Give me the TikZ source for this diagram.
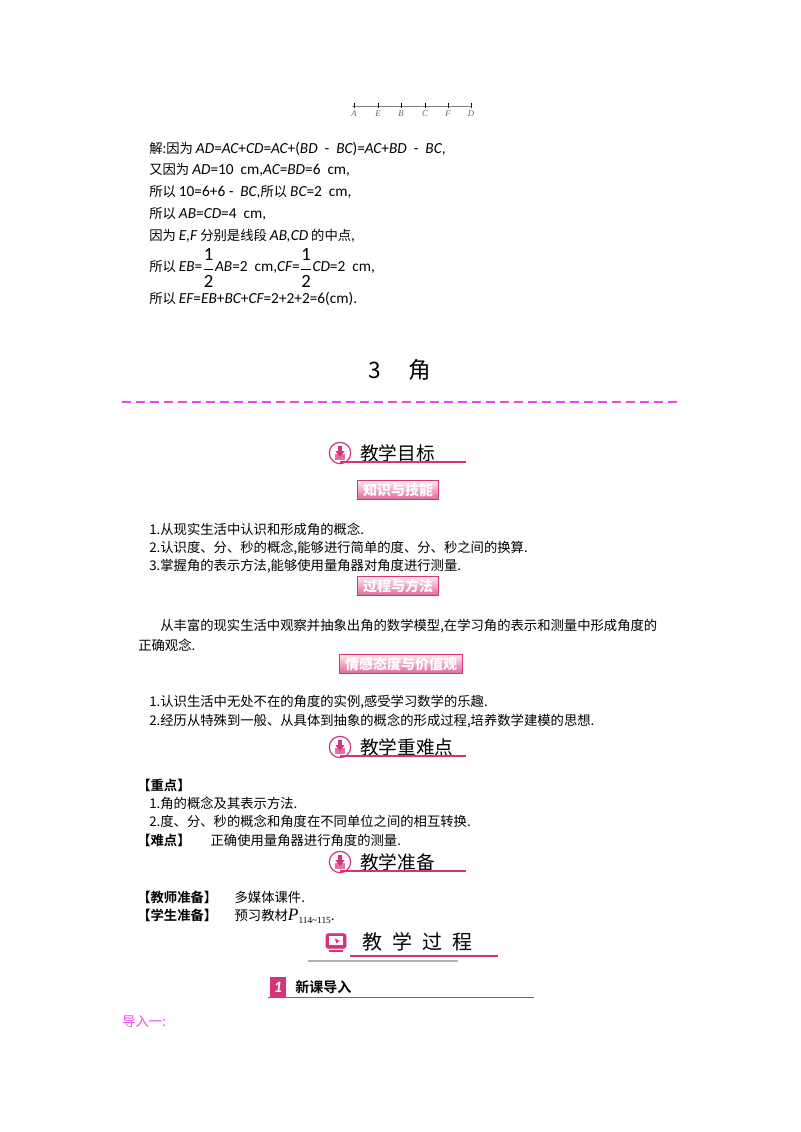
\documentclass[tikz,border=0pt]{standalone}
\usepackage{fontspec}
\setmainfont{Carlito}
\newfontfamily\cjk{Noto Sans CJK SC}
\newfontfamily\cjkb{Noto Sans CJK SC}[BoldFont={* Bold}]
\newfontfamily\serifl{Liberation Serif}
\definecolor{pk}{HTML}{D6337A}
\definecolor{mg}{HTML}{EE44EE}
\begin{document}
\begin{tikzpicture}[x=0.75pt,y=-0.75pt,
  txt/.style={anchor=west,inner sep=0pt,font=\cjk\fontsize{10}{12}\selectfont},
  head/.style={anchor=west,inner sep=0pt,font=\cjk\fontsize{14}{16}\selectfont},
  badge/.style={draw=pk,line width=0.8pt,top color=pink!30,bottom color=pk!75,text=white,font=\cjk\bfseries\fontsize{10.5}{11}\selectfont,inner xsep=4pt,inner ysep=2pt},
  icon/.style={circle,draw=pk,line width=0.9pt,fill=white,minimum size=16pt,inner sep=0pt},
  hline/.style={pk,line width=0.8pt}]
\useasboundingbox (0,0) rectangle (800,1132);
% number line
\draw[gray,line width=0.4pt] (352,106) -- (472,106);
\foreach \x/\l in {354/A,378/E,401/B,425/C,448/F,471/D}{
  \draw[line width=0.6pt] (\x,103) -- (\x,108);
  \node[font=\serifl\itshape\fontsize{6.5}{7}\selectfont,text=gray!80!black] (nl\l) at (\x,114) {\l};}
% solution
\newcommand\ii[1]{{\rmfamily\itshape\fontsize{11.5}{12}\selectfont #1}}
\newcommand\rr[1]{{\rmfamily\fontsize{11.5}{12}\selectfont #1}}
\newcommand\hf{$\vcenter{\hbox{\fontsize{14}{14}\selectfont$\displaystyle\frac{\hbox{\rmfamily 1}}{\hbox{\rmfamily 2}}$}}$}
\node[txt] (s1) at (149,149) {解:因为 \ii{AD}\rr{=}\ii{AC}\rr{+}\ii{CD}\rr{=}\ii{AC}\rr{+(}\ii{BD}\rr{\ \ -\ \ }\ii{BC}\rr{)=}\ii{AC}\rr{+}\ii{BD}\rr{\ \ -\ \ }\ii{BC}\rr{,}};
\node[txt] (s2) at (149,170) {又因为 \ii{AD}\rr{=10\ \ cm,}\ii{AC}\rr{=}\ii{BD}\rr{=6\ \ cm,}};
\node[txt] (s3) at (149,192) {所以 \rr{10=6+6 -\ \ }\ii{BC}\rr{,}所以 \ii{BC}\rr{=2\ \ cm,}};
\node[txt] (s4) at (149,214) {所以 \ii{AB}\rr{=}\ii{CD}\rr{=4\ \ cm,}};
\node[txt] (s5) at (149,236) {因为 \ii{E,F} 分别是线段 \ii{AB,CD} 的中点\rr{,}};
\node[txt] (s6) at (149,268) {所以 \ii{EB}\rr{=}\hf\ii{AB}\rr{=2\ \ cm,}\ii{CF}\rr{=}\hf\ii{CD}\rr{=2\ \ cm,}};
\node[txt] (s7) at (149,299) {所以 \ii{EF}\rr{=}\ii{EB}\rr{+}\ii{BC}\rr{+}\ii{CF}\rr{=2+2+2=6(cm).}};
% title
\node[font=\cjk\fontsize{17}{20}\selectfont] (title) at (400,370) {3\hspace{1.2em}角};
\draw[mg,line width=1pt,dash pattern=on 7pt off 3.5pt] (122,402) -- (678,402);
\foreach \n/\y/\t in {h1/453/教学目标,h2/747/教学重难点,h3/862/教学准备}{
  \node[icon] (\n i) at (340,\y) {};
  \fill[pk!70] ([xshift=-4pt,yshift=-1pt]\n i.center) rectangle ([xshift=4pt,yshift=-5pt]\n i.center);
  \fill[pk] ([xshift=-1.3pt,yshift=5pt]\n i.center) rectangle ([xshift=1.3pt,yshift=1pt]\n i.center);
  \fill[pk] ([xshift=-3.5pt,yshift=1.5pt]\n i.center) -- ([xshift=3.5pt,yshift=1.5pt]\n i.center) -- ([yshift=-3pt]\n i.center) -- cycle;
  \node[head] (\n) at (360,\y) {\t};
  \draw[hline] (340,\y+9) -- (466,\y+9);
}
\node[badge] (b1) at (398,490) {知识与技能};
\node[txt] (l1) at (149,529) {1.从现实生活中认识和形成角的概念.};
\node[txt] (l2) at (149,548) {2.认识度、分、秒的概念,能够进行简单的度、分、秒之间的换算.};
\node[txt] (l3) at (149,566) {3.掌握角的表示方法,能够使用量角器对角度进行测量.};
\node[badge] (b2) at (398,586) {过程与方法};
\node[txt] (p1) at (160,626) {从丰富的现实生活中观察并抽象出角的数学模型,在学习角的表示和测量中形成角度的};
\node[txt] (p2) at (138,645) {正确观念.};
\node[badge] (b3) at (401,664) {情感态度与价值观};
\node[txt] (q1) at (149,702) {1.认识生活中无处不在的角度的实例,感受学习数学的乐趣.};
\node[txt] (q2) at (149,721) {2.经历从特殊到一般、从具体到抽象的概念的形成过程,培养数学建模的思想.};
\node[txt,font=\cjkb\bfseries\fontsize{10}{12}\selectfont] (z0) at (137,785) {【重点】};
\node[txt] (z1) at (149,803) {1.角的概念及其表示方法.};
\node[txt] (z2) at (149,821) {2.度、分、秒的概念和角度在不同单位之间的相互转换.};
\node[txt] (z3) at (137,840) {{\cjkb\bfseries【难点】}\hspace{1.5em}正确使用量角器进行角度的测量.};
\node[txt] (t1) at (137,897) {{\cjkb\bfseries【教师准备】}\hspace{1.3em}多媒体课件.};
\node[txt] (t2) at (137,916) {{\cjkb\bfseries【学生准备】}\hspace{1.3em}预习教材{\serifl\itshape\fontsize{13}{14}\selectfont P}{\serifl\fontsize{7}{8}\selectfont\raisebox{-2pt}{114\textasciitilde115}}.};
% 教学过程
\node[draw=pk,fill=pk,rounded corners=1.5pt,minimum width=15pt,minimum height=11pt,inner sep=0pt] (pi) at (336,941) {};
\fill[white] ([xshift=-5pt,yshift=3.5pt]pi.center) rectangle ([xshift=5pt,yshift=-3pt]pi.center);
\fill[pk] ([xshift=-1pt,yshift=2pt]pi.center) -- ++(4pt,-2pt) -- ++(-1.5pt,-0.5pt) -- ++(-1pt,-1.5pt) -- cycle;
\fill[pk] ([xshift=-5pt,yshift=-7pt]pi.center) rectangle ([xshift=5pt,yshift=-8.5pt]pi.center);
\node[head,font=\cjk\fontsize{15}{17}\selectfont] (gc) at (362,942) {教\hspace{0.5em}学\hspace{0.5em}过\hspace{0.5em}程};
\draw[hline] (350,956) -- (498,956);
\draw[gray!60,line width=0.8pt] (308,961) -- (458,961);
% 新课导入
\node[fill=pk,minimum width=12pt,minimum height=15pt,inner sep=0pt,text=white,font=\bfseries\itshape\fontsize{12}{12}\selectfont] (n1) at (278,987) {1};
\node[txt,font=\cjkb\bfseries\fontsize{10.5}{12}\selectfont] (nk) at (295,987) {新课导入};
\draw[hline,line width=0.6pt] (268,997) -- (534,997);
\node[txt,text=mg] (dr) at (122,1022) {导入一:};
\end{tikzpicture}
\end{document}
